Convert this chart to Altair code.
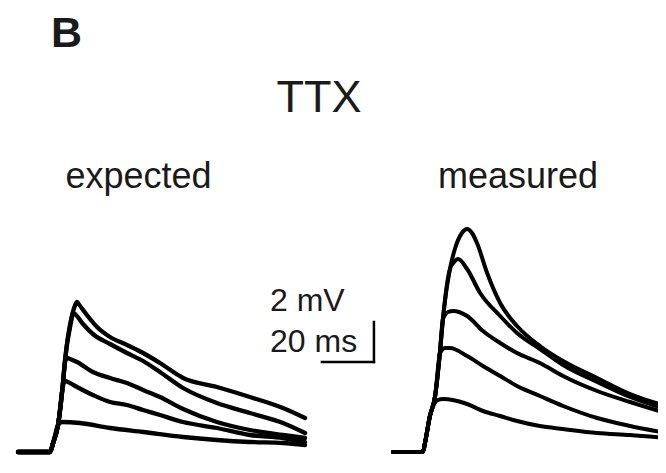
import altair as alt
import pandas as pd

# ---------------- data: time (ms) and voltage (mV) ----------------
# "expected" traces (TTX)
E1_t = [0, 12.3, 13.5, 15.4, 17.3, 18.1, 20.8, 22.0, 22.7, 23.6, 26.5, 30.4, 35.4, 41.9, 48.1, 54.6, 63.5, 76.5, 89.2, 101.9, 110.4]
E1_v = [0, 0, 0.45, 1.35, 3.45, 4.6, 6.85, 7.35, 7.5, 7.35, 6.85, 6.25, 5.75, 5.35, 4.95, 4.45, 3.7, 3.25, 2.75, 2.2, 1.7]
E2_t = [0, 12.3, 13.5, 15.4, 17.3, 18.1, 20.4, 21.2, 22.3, 25.0, 28.8, 35.4, 41.9, 48.1, 54.6, 63.5, 76.5, 89.2, 101.9, 110.4]
E2_v = [0, 0, 0.45, 1.35, 3.45, 4.6, 6.5, 6.95, 6.85, 6.4, 5.9, 5.4, 4.95, 4.55, 4.0, 3.2, 2.45, 1.95, 1.45, 0.95]
E3_t = [0, 12.3, 13.5, 15.4, 17.3, 18.1, 19.0, 20.0, 22.7, 28.8, 35.4, 41.9, 48.1, 54.6, 63.5, 76.5, 89.2, 101.9, 110.4]
E3_v = [0, 0, 0.45, 1.35, 3.45, 4.5, 4.7, 4.65, 4.5, 4.0, 3.7, 3.45, 3.1, 2.75, 2.15, 1.5, 1.1, 0.85, 0.7]
E4_t = [0, 12.3, 13.5, 15.4, 17.3, 18.1, 19.2, 22.7, 28.8, 35.4, 41.9, 48.1, 54.6, 63.5, 76.5, 89.2, 101.9, 110.4]
E4_v = [0, 0, 0.45, 1.35, 3.3, 3.55, 3.5, 3.25, 2.85, 2.5, 2.35, 2.1, 1.85, 1.5, 1.2, 0.85, 0.7, 0.5]
E5_t = [0, 12.3, 13.5, 15.4, 16.9, 23.8, 35.4, 48.1, 63.5, 76.5, 89.2, 101.9, 110.4]
E5_v = [0, 0, 0.45, 1.35, 1.5, 1.45, 1.2, 1.0, 0.75, 0.6, 0.5, 0.45, 0.35]

# "measured" traces (TTX)
M1_t = [0, 11.5, 12.3, 14.2, 16.2, 18.1, 19.2, 21.9, 23.8, 26.5, 28.5, 30.4, 32.3, 36.2, 41.2, 47.7, 56.5, 65.4, 78.5, 91.2, 105]
M1_v = [0, 0, 0.45, 1.8, 2.8, 5.05, 6.65, 9.15, 10.15, 10.95, 11.15, 10.95, 10.45, 8.95, 7.45, 6.3, 5.3, 4.55, 3.7, 2.9, 2.3]
M2_t = [0, 11.5, 12.3, 14.2, 16.2, 18.1, 19.2, 21.9, 23.5, 25.0, 28.5, 33.5, 41.2, 47.7, 56.5, 65.4, 78.5, 91.2, 105]
M2_v = [0, 0, 0.45, 1.8, 2.8, 5.05, 6.65, 9.15, 9.5, 9.65, 9.15, 7.95, 6.8, 5.95, 5.15, 4.35, 3.5, 2.75, 2.15]
M3_t = [0, 11.5, 12.3, 14.2, 16.2, 18.1, 19.2, 21.2, 23.1, 28.5, 34.6, 41.2, 47.7, 56.5, 65.4, 78.5, 91.2, 105]
M3_v = [0, 0, 0.45, 1.8, 2.8, 5.05, 6.65, 7.0, 7.05, 6.8, 6.05, 5.45, 4.95, 4.45, 3.8, 3.05, 2.5, 1.95]
M4_t = [0, 11.5, 12.3, 14.2, 16.2, 18.1, 20.0, 21.9, 28.5, 34.6, 41.2, 47.7, 56.5, 65.4, 78.5, 91.2, 105]
M4_v = [0, 0, 0.45, 1.8, 2.8, 4.95, 5.2, 5.2, 4.8, 4.3, 3.8, 3.3, 2.8, 2.3, 1.7, 1.3, 0.95]
M5_t = [0, 11.5, 12.3, 14.2, 15.8, 17.3, 19.2, 28.5, 34.6, 41.2, 47.7, 56.5, 65.4, 78.5, 91.2, 105]
M5_v = [0, 0, 0.45, 1.8, 2.4, 2.6, 2.65, 2.4, 2.05, 1.8, 1.55, 1.3, 1.15, 0.95, 0.85, 0.7]

# scale bar
SCALE_MS = 20
SCALE_MV = 2

# text
PANEL_LETTER = "B"
CONDITION = "TTX"
PANEL_NAMES = ["expected", "measured"]
SCALE_LABEL_MV = "2 mV"
SCALE_LABEL_MS = "20 ms"

# ---------------- layout constants ----------------
W, H = 650, 450
MEASURED_OFFSET = 144.23          # ms shift of the second panel
x_scale = alt.Scale(domain=[-3.846, 246.15], nice=False, zero=False)
y_scale = alt.Scale(domain=[-0.3, 22.2], nice=False, zero=False)
BAR_END_T = 136.9
BAR_BASE_V = 4.5

# ---------------- build tables ----------------
def table(panel, traces):
    rows = []
    for name, ts, vs in traces:
        for i, (t, v) in enumerate(zip(ts, vs)):
            rows.append({"panel": panel, "trace": name, "i": i, "t": t, "v": v})
    return rows

rows = table("expected", [("E1", E1_t, E1_v), ("E2", E2_t, E2_v), ("E3", E3_t, E3_v),
                          ("E4", E4_t, E4_v), ("E5", E5_t, E5_v)])
rows += table("measured", [("M1", M1_t, M1_v), ("M2", M2_t, M2_v), ("M3", M3_t, M3_v),
                           ("M4", M4_t, M4_v), ("M5", M5_t, M5_v)])
df = pd.DataFrame(rows)

def lines(panel, width):
    return (
        alt.Chart(df[df.panel == panel])
        .transform_calculate(x=f"datum.t + {MEASURED_OFFSET if panel == 'measured' else 0}")
        .mark_line(color="black", strokeWidth=width, interpolate="monotone",
                   strokeJoin="round", strokeCap="round", clip=True)
        .encode(
            x=alt.X("x:Q", scale=x_scale, axis=None),
            y=alt.Y("v:Q", scale=y_scale, axis=None),
            detail="trace:N",
            order="i:Q",
        )
    )

exp_lines = lines("expected", 4.3)
meas_lines = lines("measured", 4)

bar_df = pd.DataFrame({
    "x": [BAR_END_T - SCALE_MS, BAR_END_T],
    "x2": [BAR_END_T, BAR_END_T],
    "y": [BAR_BASE_V, BAR_BASE_V],
    "y2": [BAR_BASE_V, BAR_BASE_V + SCALE_MV],
})
bar = alt.Chart(bar_df).mark_rule(color="black", strokeWidth=2.5, strokeCap="square").encode(
    x=alt.X("x:Q", scale=x_scale, axis=None),
    x2="x2:Q",
    y=alt.Y("y:Q", scale=y_scale, axis=None),
    y2="y2:Q",
)

def label(text, x, y, size, align="left", weight="normal"):
    return alt.Chart(pd.DataFrame({"label": [text]})).mark_text(
        font="Liberation Sans", fontSize=size, fontWeight=weight, align=align,
        baseline="alphabetic", color="#1a1a1a",
    ).encode(x=alt.value(x), y=alt.value(y), text="label:N")

texts = [
    label(PANEL_LETTER, 43, 39, 43, weight="bold"),
    label(CONDITION, 311, 104, 45, align="center"),
    label(PANEL_NAMES[0], 130.5, 180, 36, align="center"),
    label(PANEL_NAMES[1], 510, 180, 36, align="center"),
    label(SCALE_LABEL_MV, 262, 303, 32),
    label(SCALE_LABEL_MS, 262, 344, 32),
]

chart = alt.layer(exp_lines, meas_lines, bar, *texts).properties(
    width=W, height=H, padding=0, autosize=alt.AutoSizeParams(type="none"),
    background="white",
).configure_view(stroke=None)

chart.save("out.html", embed_options={"renderer": "svg", "actions": False})
